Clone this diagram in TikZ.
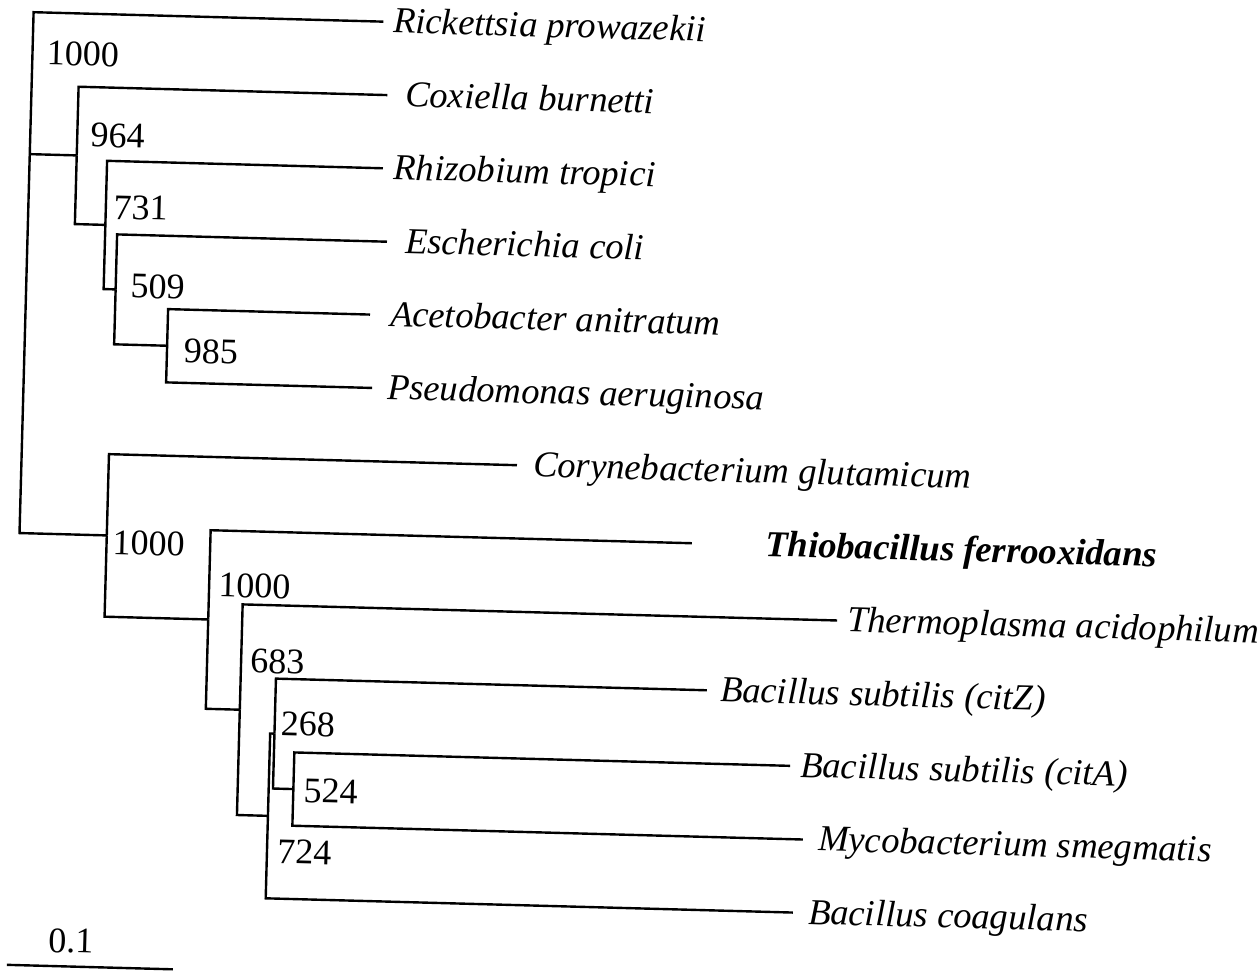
\documentclass[tikz,border=0pt]{standalone}
\usepackage{fontspec}
\setmainfont{Liberation Serif}
\begin{document}
\begin{tikzpicture}[x=0.5pt,y=-0.5pt,
  br/.style={line width=1.2pt},
  leaf/.style={anchor=base west, inner sep=0pt, font=\fontsize{18.3}{20}\selectfont\itshape},
  boot/.style={anchor=base west, inner sep=0pt, font=\fontsize{18}{20}\selectfont}]
\useasboundingbox (0,0) rectangle (1257,971);
\begin{scope}[rotate around={-1.55:(628,485)}, transform shape]
% internal nodes
\coordinate (root) at (21,170.4);
\coordinate (n964) at (68,170.4);
\coordinate (n731) at (98.5,239.1);
\coordinate (n509) at (110.5,303.3);
\coordinate (n985) at (163.5,358.25);
\coordinate (nL) at (108.3,549.5);
\coordinate (nB) at (212,630.8);
\coordinate (n683) at (246,720.15);
\coordinate (n724) at (277,825.5);
\coordinate (n268) at (281.3,743.1);
\coordinate (n524) at (301.7,798.05);
% leaf tips
\coordinate (rick) at (371,28.4);
\coordinate (cox) at (377,101.7);
\coordinate (rhi) at (374.5,175);
\coordinate (esc) at (380.5,248.3);
\coordinate (ace) at (365.5,321.6);
\coordinate (pse) at (369.5,394.9);
\coordinate (cor) at (516.5,468.2);
\coordinate (thio) at (693.5,541.5);
\coordinate (therm) at (840.7,614.8);
\coordinate (citZ) at (712.5,688.1);
\coordinate (citA) at (797.6,761.4);
\coordinate (myco) at (812.5,834.7);
\coordinate (coag) at (804.5,908);
% branches
\draw[br] (root) |- (rick);
\draw[br] (root) -- (n964);
\draw[br] (root) |- (nL);
\draw[br] (n964) |- (cox);
\draw[br] (n964) |- (n731);
\draw[br] (n731) |- (rhi);
\draw[br] (n731) |- (n509);
\draw[br] (n509) |- (esc);
\draw[br] (n509) |- (n985);
\draw[br] (n985) |- (ace);
\draw[br] (n985) |- (pse);
\draw[br] (nL) |- (cor);
\draw[br] (nL) |- (nB);
\draw[br] (nB) |- (thio);
\draw[br] (nB) |- (n683);
\draw[br] (n683) |- (therm);
\draw[br] (n683) |- (n724);
\draw[br] (n724) |- (n268);
\draw[br] (n724) |- (coag);
\draw[br] (n268) |- (citZ);
\draw[br] (n268) |- (n524);
\draw[br] (n524) |- (citA);
\draw[br] (n524) |- (myco);
% leaf labels
\node[leaf] (lrick) at (380.6,39.4) {Rickettsia prowazekii};
\node[leaf] (lcox) at (394.5,112.7) {Coxiella burnetti};
\node[leaf] (lrhi) at (385,186) {Rhizobium tropici};
\node[leaf] (lesc) at (398.5,259.3) {Escherichia coli};
\node[leaf] (lace) at (385.4,332.6) {Acetobacter anitratum};
\node[leaf] (lpse) at (384.4,405.9) {Pseudomonas aeruginosa};
\node[leaf] (lcor) at (532.5,479.2) {Corynebacterium glutamicum};
\node[leaf, font=\fontsize{18.3}{20}\selectfont\bfseries\itshape] (lthio) at (766.8,552.5) {Thiobacillus ferrooxidans};
\node[leaf] (ltherm) at (850.6,625.8) {Thermoplasma acidophilum};
\node[leaf] (lcitZ) at (725.5,699.1) {Bacillus subtilis (citZ)};
\node[leaf] (lcitA) at (807.7,772.4) {Bacillus subtilis (citA)};
\node[leaf] (lmyco) at (827.6,845.7) {Mycobacterium smegmatis};
\node[leaf] (lcoag) at (819.5,919) {Bacillus coagulans};
% bootstrap values
\node[boot] (b1) at (35,80.7) {1000};
\node[boot] (b2) at (81,161.4) {964};
\node[boot] (b3) at (106,233) {731};
\node[boot] (b4) at (125,311.4) {509};
\node[boot] (b5) at (180,375) {985};
\node[boot] (b6) at (114,568) {1000};
\node[boot] (b7) at (221,608) {1000};
\node[boot] (b8) at (255,683) {683};
\node[boot] (b9) at (287,744.4) {268};
\node[boot] (b10) at (311.6,811) {524};
\node[boot] (b11) at (287,872.5) {724};
% scale bar
\coordinate (sb1) at (20,981.5);
\coordinate (sb2) at (186,981.5);
\draw[br] (sb1) -- (sb2);
\node[boot] (sbl) at (60.6,967.7) {0.1};
\end{scope}
\end{tikzpicture}
\end{document}
